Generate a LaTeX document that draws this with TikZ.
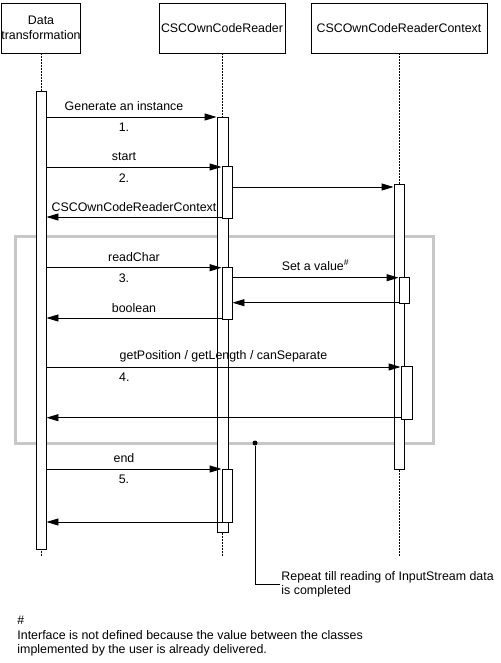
\documentclass[tikz,border=0pt]{standalone}
\usepackage{fontspec}
\setmainfont{Liberation Sans}
\usetikzlibrary{arrows.meta}

\begin{document}
\begin{tikzpicture}[x=1pt,y=-1pt,line width=0.9pt,
  every node/.style={font=\fontsize{12.4}{14.5}\selectfont},
  head/.style={draw,fill=white,inner sep=0pt,minimum height=50pt,align=center},
  bar/.style={draw,fill=white,inner sep=0pt,minimum width=10pt},
  life/.style={line width=0.8pt,dash pattern=on 2pt off 1pt},
  msg/.style={-{Triangle[length=12pt,width=7pt]}},
  lbl/.style={inner sep=1pt}]
\useasboundingbox (0,0) rectangle (500,663);
% heads and lifelines
\node[head,minimum width=77pt] (dt) at (41,28) {Data\\transformation};
\node[head,minimum width=126pt] (rd) at (222,28) {CSCOwnCodeReader};
\node[head,minimum width=176pt] (cx) at (399,28) {CSCOwnCodeReaderContext};
\coordinate (dtEnd) at (41,557);
\coordinate (rdEnd) at (222,557);
\coordinate (cxEnd) at (399,557);
\draw[life] (dt.south) -- (dtEnd);
\draw[life] (rd.south) -- (rdEnd);
\draw[life] (cx.south) -- (cxEnd);
% loop frame
\draw[black!22,line width=3pt] (15,236) rectangle (433,443);
% activations
\node[bar,minimum height=458pt] (dtA) at (41,320) {};
\node[bar,minimum width=11pt,minimum height=415pt] (rdA) at (222.5,324.5) {};
\node[bar,minimum height=52pt] (rdB) at (227,192) {};
\node[bar,minimum height=52pt] (rdC) at (227,293) {};
\node[bar,minimum height=53pt] (rdD) at (227,495.5) {};
\node[bar,minimum height=285pt] (cxA) at (399,326.5) {};
\node[bar,minimum height=26pt] (cxB) at (404,290) {};
\node[bar,minimum width=11pt,minimum height=53pt] (cxC) at (406.5,392.5) {};
% message levels
\foreach \n/\y in {y1/117,y2/167,y3/187,y4/217,y5/267.7,y6/277.7,y7/302.7,y8/318,y9/367,y10/417.7,y11/469,y12/522}
  \coordinate (\n) at (0,\y);
% messages
\draw[msg] (dtA.east |- y1) -- (rdA.west |- y1)
  node[lbl,pos=0.456,above=5pt]{Generate an instance} node[lbl,pos=0.456,below=5pt]{1.};
\draw[msg] (dtA.east |- y2) -- (rdB.west |- y2)
  node[lbl,pos=0.443,above=5pt]{start} node[lbl,pos=0.443,below=5pt]{2.};
\draw[msg] (rdB.east |- y3) -- (cxA.west |- y3);
\draw[msg] (rdB.west |- y4) -- (dtA.east |- y4)
  node[lbl,midway,above=4pt]{CSCOwnCodeReaderContext};
\draw[msg] (dtA.east |- y5) -- (rdC.west |- y5)
  node[lbl,midway,above=5pt]{readChar} node[lbl,pos=0.443,below=5pt]{3.};
\draw[msg] (rdC.east |- y6) -- (cxB.west |- y6)
  node[lbl,midway,above=6pt]{Set a value\textsuperscript{\#}};
\draw[msg] (cxB.west |- y7) -- (rdC.east |- y7);
\draw[msg] (rdC.west |- y8) -- (dtA.east |- y8)
  node[lbl,midway,above=4pt]{boolean};
\draw[msg] (dtA.east |- y9) -- (cxC.west |- y9)
  node[lbl,midway,above=3pt]{getPosition / getLength / canSeparate} node[lbl,pos=0.22,below=5pt]{4.};
\draw[msg] (cxC.west |- y10) -- (dtA.east |- y10);
\draw[msg] (dtA.east |- y11) -- (rdD.west |- y11)
  node[lbl,pos=0.443,above=5pt]{end} node[lbl,pos=0.443,below=5pt]{5.};
\draw[msg] (rdD.west |- y12) -- (dtA.east |- y12);
% loop note
\node[circle,fill,inner sep=0pt,minimum size=5pt] (dot) at (255,443) {};
\node[anchor=west,inner sep=1pt,align=left] (note) at (280,584.5) {Repeat till reading of InputStream data\\is completed};
\draw (dot) |- (note.west);
% footnote
\node[anchor=west,inner sep=0pt,align=left] (foot) at (17,636.5) {\#\\Interface is not defined because the value between the classes\\implemented by the user is already delivered.};
\end{tikzpicture}
\end{document}
